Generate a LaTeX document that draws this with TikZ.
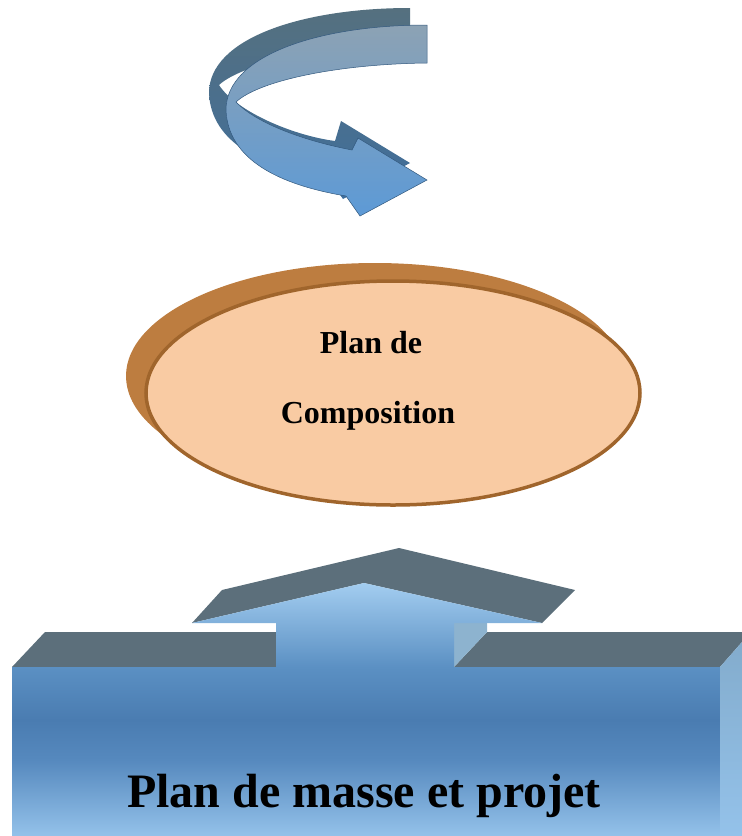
\documentclass[tikz,border=0pt]{standalone}
\usepackage{fontspec}
\setmainfont{Liberation Serif}
\definecolor{bkA}{HTML}{A3CDF0}
\definecolor{bkB}{HTML}{5B90C3}
\definecolor{bkC}{HTML}{4A7CB1}
\definecolor{bkD}{HTML}{5689BE}
\definecolor{bkE}{HTML}{94C2EA}
\definecolor{slate}{HTML}{5C6F7B}
\definecolor{sideface}{HTML}{8DB3CF}
\definecolor{peach}{HTML}{F9CBA3}
\definecolor{brownrim}{HTML}{A0652C}
\definecolor{brownshadow}{HTML}{BD7D40}
\definecolor{ribTop}{HTML}{8CA2B4}
\definecolor{ribBot}{HTML}{5D9AD6}
\definecolor{ribDarkTop}{HTML}{55707F}
\definecolor{ribDarkBot}{HTML}{3F6E9C}
\pgfdeclareverticalshading{blockshade}{100bp}{color(0bp)=(bkE); color(25bp)=(bkE); color(40bp)=(bkD); color(47.9bp)=(bkC); color(58.4bp)=(bkB); color(75bp)=(bkA); color(100bp)=(bkA)}
\tikzset{
  topface/.style={fill=slate},
  ribdark/.style={top color=ribDarkTop, bottom color=ribDarkBot},
  riblight/.style={top color=ribTop, bottom color=ribBot, draw=ribDarkBot!80!black, line width=0.5pt},
  labeltext/.style={anchor=base, inner sep=0pt, text=black, font=\bfseries\fontsize{32}{32}\selectfont},
  bigtext/.style={anchor=base, inner sep=0pt, text=black, font=\bfseries\fontsize{48}{48}\selectfont}
}
\begin{document}
\begin{tikzpicture}[x=1pt,y=-1pt]
\useasboundingbox (0,0) rectangle (742,836);
% curved ribbon arrow: dark extrusion
\path[ribdark] (410,8) -- (410,46)
  .. controls (323,47) and (243,63) .. (219,85)
  .. controls (235,110) and (290,135) .. (335,141)
  -- (341,121) -- (410,163) -- (343,199) -- (329,179)
  .. controls (263,168) and (211,143) .. (209,93)
  .. controls (209,38) and (303,8) .. (410,8) -- cycle;
% curved ribbon arrow: front face
\path[riblight] (427,25) -- (427,63)
  .. controls (340,64) and (260,80) .. (236,102)
  .. controls (255,122) and (300,140) .. (352,150)
  -- (358,138) -- (427,180) -- (360,216) -- (346,196)
  .. controls (280,185) and (228,160) .. (226,110)
  .. controls (226,55) and (320,25) .. (427,25) -- cycle;
% ellipse
\fill[brownshadow] (375,376) ellipse [x radius=249, y radius=113];
\filldraw[fill=peach, draw=brownrim, line width=3.5pt] (393,393) ellipse [x radius=247, y radius=112];
\node[labeltext] (plande) at (371,353) {Plan de};
\node[labeltext] (compo) at (368,423) {Composition};
% bottom block
\fill[topface] (12,667) -- (45,632) -- (276,632) -- (276,667) -- cycle;
\fill[topface] (454,667) -- (487,632) -- (742,632) -- (742,642) -- (720,667) -- cycle;
\fill[sideface] (454,623) -- (487,623) -- (487,632) -- (454,667) -- cycle;
\fill[topface] (192,623) -- (222,590) -- (399,548) -- (575,590) -- (542,623) -- (364,583) -- cycle;
\shade[shading=blockshade] (12,836) -- (12,667) -- (276,667) -- (276,623) -- (192,623) -- (364,583) -- (542,623) -- (454,623) -- (454,667) -- (720,667) -- (720,836) -- cycle;
\shade[top color=sideface!80!bkB, bottom color=bkE] (720,667) -- (742,642) -- (742,836) -- (720,836) -- cycle;
\node[bigtext] (masse) at (364,807) {Plan de masse et projet};
\end{tikzpicture}
\end{document}
